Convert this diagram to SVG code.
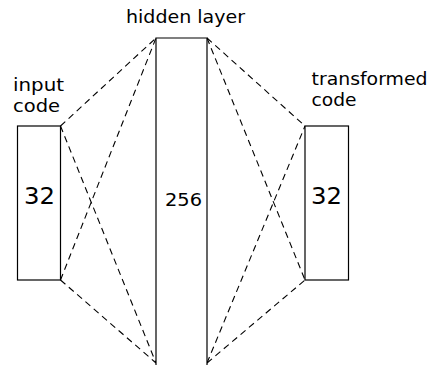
<svg xmlns="http://www.w3.org/2000/svg" width="428" height="365" viewBox="0 0 428 365">
<style>
.box{fill:#fff;stroke:#000;stroke-width:1.2}
.dash{fill:none;stroke:#000;stroke-width:1.1;stroke-dasharray:6.5 4.5}
.lbl{font-family:"DejaVu Sans",sans-serif;font-size:17px;fill:#000}
.num{font-family:"DejaVu Sans",sans-serif;fill:#000}
</style>
<rect width="428" height="365" fill="#fff"/>
<g id="connectors">
<line class="dash" x1="60.5" y1="126" x2="156" y2="38"/>
<line class="dash" x1="60.5" y1="126" x2="156" y2="363"/>
<line class="dash" x1="60.5" y1="280" x2="156" y2="38"/>
<line class="dash" x1="60.5" y1="280" x2="156" y2="363"/>
<line class="dash" x1="207" y1="38" x2="305" y2="126"/>
<line class="dash" x1="207" y1="38" x2="305" y2="280"/>
<line class="dash" x1="207" y1="363" x2="305" y2="126"/>
<line class="dash" x1="207" y1="363" x2="305" y2="280"/>
</g>
<g id="input">
<rect class="box" x="17.5" y="126" width="43" height="154"/>
<text class="num" x="24" y="204" font-size="23" textLength="31" lengthAdjust="spacingAndGlyphs">32</text>
<text class="lbl" x="13" y="91" textLength="51" lengthAdjust="spacingAndGlyphs">input</text>
<text class="lbl" x="13" y="112" textLength="47" lengthAdjust="spacingAndGlyphs">code</text>
</g>
<g id="hidden">
<path class="box" d="M156,366 V38 H207 V366"/>
<text class="num" x="165" y="206" font-size="18" textLength="37" lengthAdjust="spacingAndGlyphs">256</text>
<text class="lbl" x="126" y="23" textLength="119" lengthAdjust="spacingAndGlyphs">hidden layer</text>
</g>
<g id="output">
<rect class="box" x="305" y="126" width="43.5" height="154"/>
<text class="num" x="311" y="204" font-size="23" textLength="31" lengthAdjust="spacingAndGlyphs">32</text>
<text class="lbl" x="311.5" y="85" textLength="116" lengthAdjust="spacingAndGlyphs">transformed</text>
<text class="lbl" x="311.5" y="106" textLength="45" lengthAdjust="spacingAndGlyphs">code</text>
</g>
</svg>
